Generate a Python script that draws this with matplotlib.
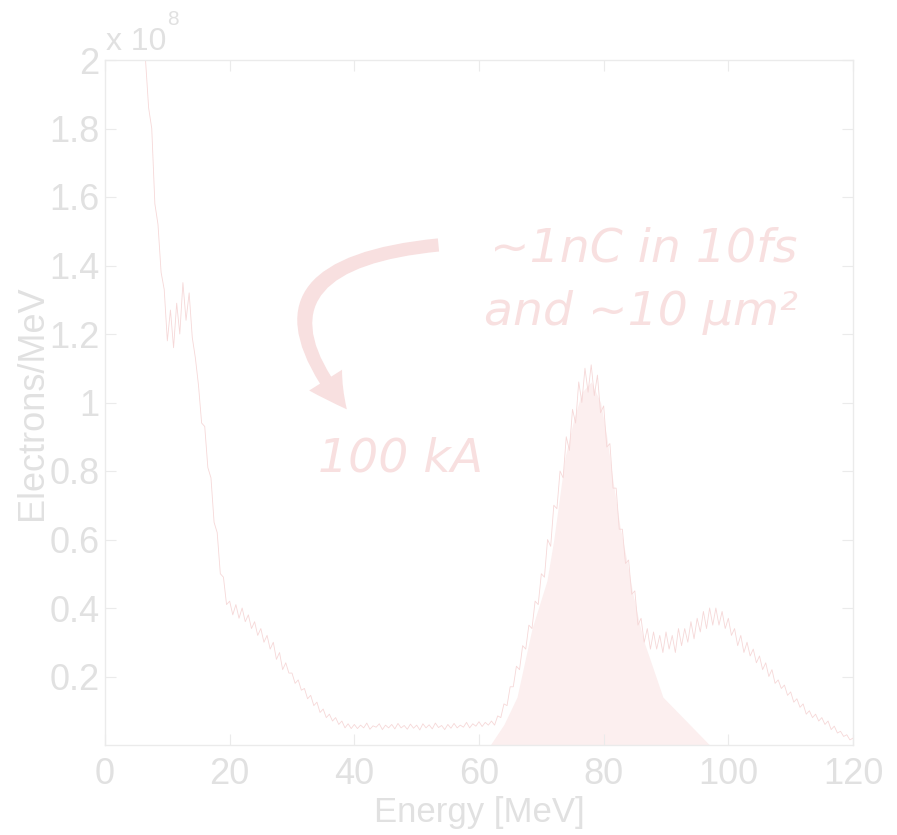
import numpy as np
import matplotlib
matplotlib.use("Agg")
import matplotlib.pyplot as plt
from matplotlib.path import Path
from matplotlib.patches import FancyArrowPatch

# ---------------- data (units: 1e8 electrons / MeV) ----------------
e_start, e_step = 6.5, 0.5
seg_a = [2.00, 1.86, 1.80, 1.58, 1.52, 1.38, 1.33]                       # 6.5-9.5
seg_b = [1.18, 1.27, 1.16, 1.29, 1.20, 1.35, 1.24, 1.32, 1.19, 1.13, 1.05, 0.94]  # 10-15.5
seg_c = [0.93, 0.81, 0.78, 0.65, 0.62, 0.50, 0.49, 0.41]                 # 16-19.5
seg_d = [0.42, 0.38, 0.41, 0.37, 0.40, 0.36, 0.38, 0.34, 0.36, 0.32,
         0.34, 0.30, 0.32, 0.28, 0.30, 0.25, 0.27, 0.22, 0.24, 0.21]     # 20-29.5
seg_e = [0.21, 0.18, 0.19, 0.16, 0.165, 0.135, 0.145, 0.115, 0.125, 0.095,
         0.105, 0.08, 0.09, 0.07, 0.08, 0.06, 0.07, 0.05, 0.062, 0.048]  # 30-39.5
seg_f = [0.060, 0.048, 0.058, 0.050, 0.064, 0.046, 0.056, 0.052, 0.062, 0.045,
         0.058, 0.050, 0.060, 0.047, 0.063, 0.050, 0.057, 0.046, 0.061, 0.049,
         0.058, 0.044, 0.062, 0.050, 0.059, 0.047, 0.064, 0.051, 0.057, 0.045,
         0.060, 0.049, 0.063, 0.050, 0.058, 0.052, 0.066, 0.050, 0.062, 0.055,
         0.068, 0.054, 0.066, 0.058]                                      # 40-61.5
seg_g = [0.07, 0.058, 0.085, 0.08, 0.12, 0.115, 0.17, 0.17, 0.23, 0.22,
         0.29, 0.28, 0.35, 0.34, 0.42, 0.41, 0.50, 0.49, 0.60, 0.58,
         0.70, 0.69, 0.80, 0.78, 0.90, 0.86, 0.98, 0.94, 1.06, 1.00,
         1.10, 1.03, 1.11, 1.02, 1.08, 0.97, 0.99, 0.87, 0.88, 0.75,
         0.75, 0.63, 0.63, 0.53, 0.54, 0.44, 0.45, 0.35, 0.37, 0.30,
         0.34, 0.28]                                                      # 62-87.5
seg_h = [0.33, 0.28, 0.32, 0.27, 0.33, 0.28, 0.32, 0.27, 0.34, 0.29,
         0.34, 0.30, 0.36, 0.31, 0.37, 0.33, 0.39, 0.34, 0.40, 0.35,
         0.40, 0.35, 0.39, 0.34]                                          # 88-99.5
seg_i = [0.37, 0.32, 0.34, 0.29, 0.32, 0.27, 0.30, 0.26, 0.28, 0.24,
         0.26, 0.22, 0.24, 0.20, 0.22, 0.18, 0.19, 0.165, 0.175, 0.145,
         0.155, 0.125, 0.135, 0.11, 0.12, 0.09, 0.10, 0.08, 0.09, 0.07,
         0.08, 0.06, 0.07, 0.045, 0.055, 0.035, 0.04, 0.025, 0.03, 0.015,
         0.02]                                                            # 100-120
counts = np.array(seg_a + seg_b + seg_c + seg_d + seg_e + seg_f + seg_g + seg_h + seg_i)
energy = e_start + e_step * np.arange(len(counts))

fill_energy = [61.8, 64.0, 66.1, 68.5, 70.9, 72.0, 73.8, 75.2, 76.5, 78.0,
               79.5, 80.5, 81.5, 82.6, 83.7, 84.7, 85.8, 86.5, 88.0, 89.5, 97.0]
fill_values = [0.0, 0.06, 0.14, 0.34, 0.48, 0.60, 0.84, 0.95, 1.03, 1.06,
               1.00, 0.90, 0.77, 0.64, 0.54, 0.44, 0.35, 0.30, 0.22, 0.14, 0.0]

x_ticks = [0, 20, 40, 60, 80, 100, 120]
y_ticks = [0.2, 0.4, 0.6, 0.8, 1.0, 1.2, 1.4, 1.6, 1.8, 2.0]

# ---------------- style ----------------
GRAY = "#e1e1e1"
SPINE = "#ebebeb"
LINE = "#f6d8d8"
FILL = "#fcefef"
PINK = "#f8e0e0"
SANS = ["Liberation Sans", "DejaVu Sans"]

fig = plt.figure(figsize=(8.97, 8.35), dpi=100)
ax = fig.add_axes([105 / 897, 90 / 835, 748 / 897, 685 / 835])

ax.fill_between(fill_energy, 0, fill_values, color=FILL, lw=0, zorder=1)
ax.plot(energy, counts, color=LINE, lw=0.6, zorder=2)

ax.set_xlim(0, 120)
ax.set_ylim(0, 2.0)
ax.set_xticks(x_ticks)
ax.set_yticks(y_ticks)
ax.set_xticklabels([f"{t:g}" for t in x_ticks])
ax.set_yticklabels([f"{t:g}" for t in y_ticks])
for s in ax.spines.values():
    s.set_color(SPINE)
    s.set_linewidth(1.0)
ax.tick_params(direction="in", length=8, width=0.8, color=SPINE,
               top=True, right=True, labelcolor=GRAY, labelsize=26)
ax.tick_params(axis="x", pad=9)
ax.tick_params(axis="y", pad=4)
for lab in ax.get_xticklabels() + ax.get_yticklabels():
    lab.set_family(SANS)

ax.set_xlabel("Energy [MeV]", fontsize=25, color=GRAY, family=SANS)
ax.xaxis.set_label_coords(0.5, -(822 - 745) / 685, transform=ax.transAxes)
ax.xaxis.label.set_va("baseline")
ax.set_ylabel("Electrons/MeV", fontsize=26, color=GRAY, family=SANS)
ax.yaxis.set_label_coords(-(105 - 50) / 748, 0.5)

fig.text(106 / 897, 1 - 50 / 835, "x 10", fontsize=23, color=GRAY, family=SANS,
         ha="left", va="baseline")
fig.text(167 / 897, 1 - 25 / 835, "8", fontsize=15, color=GRAY, family=SANS,
         ha="left", va="baseline")

# ---------------- annotations ----------------
txt_kw = dict(color=PINK, fontsize=34, style="italic", family=["DejaVu Sans"],
              ha="left", va="baseline")
ax.text(61.8, (746 - 262) / 343, "~1nC in 10fs", **txt_kw)
ax.text(60.8, (746 - 325) / 343, "and ~10 \u00b5m\u00b2", **txt_kw)
ax.text(34.2, (746 - 472) / 343, "100 kA", **txt_kw)

arrow_path = Path([(53.5, 1.46), (20.0, 1.40), (38.8, 0.98)],
                  [Path.MOVETO, Path.CURVE3, Path.CURVE3])
arrow = FancyArrowPatch(path=arrow_path,
                        arrowstyle="simple,tail_width=9.5,head_width=28,head_length=26",
                        mutation_scale=1, color=PINK, lw=0, zorder=3)
ax.add_patch(arrow)

fig.savefig("out.png", dpi=100, facecolor="white")
